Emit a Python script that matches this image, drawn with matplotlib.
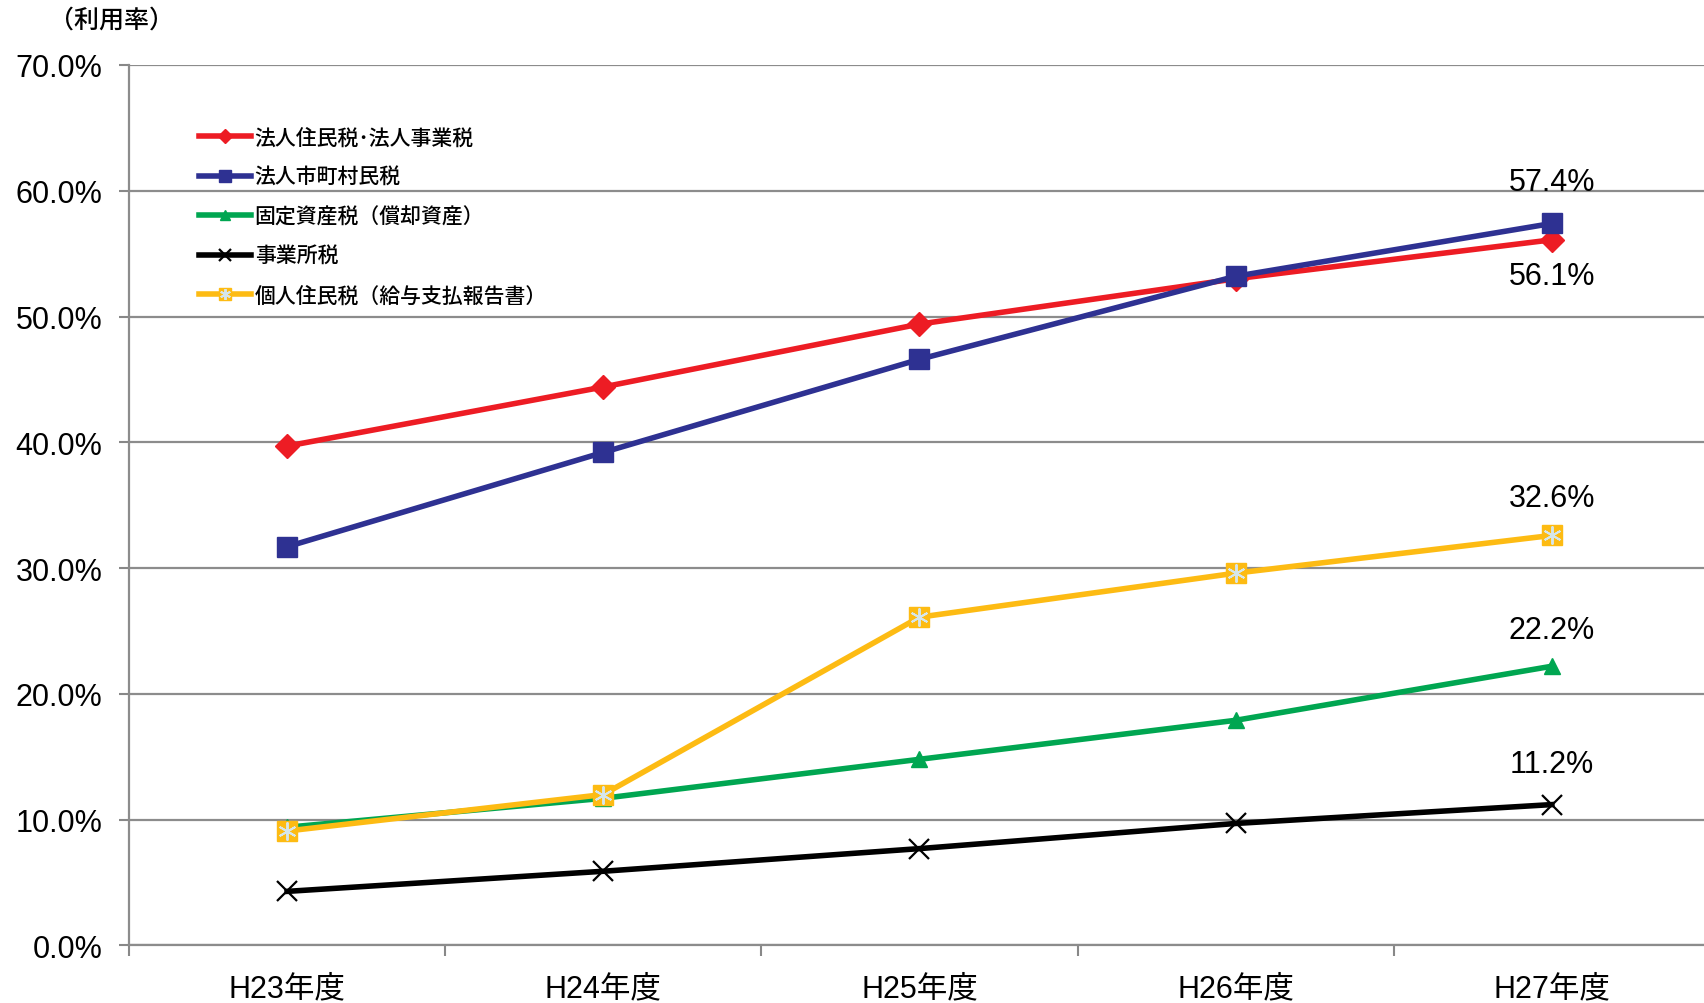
import numpy as np
import matplotlib
matplotlib.use("Agg")
import matplotlib.pyplot as plt
from matplotlib.ticker import FixedLocator, FuncFormatter

plt.rcParams['font.family'] = ['Liberation Sans', 'Noto Sans CJK JP']

# data (利用率, %)
years = ['H23年度', 'H24年度', 'H25年度', 'H26年度', 'H27年度']
hojin_jumin = [39.7, 44.4, 49.4, 53.0, 56.1]
hojin_shichoson = [31.7, 39.2, 46.6, 53.2, 57.4]
kotei_shisan = [9.4, 11.7, 14.8, 17.9, 22.2]
jigyosho = [4.3, 5.9, 7.7, 9.7, 11.2]
kojin_jumin = [9.1, 12.0, 26.1, 29.6, 32.6]

names = ['法人住民税･法人事業税', '法人市町村民税', '固定資産税（償却資産）',
         '事業所税', '個人住民税（給与支払報告書）']

fig = plt.figure(figsize=(17.04, 10.04), dpi=100)
ax = fig.add_axes([0.0757, 0.0573, 0.9278, 0.8770])

x = np.arange(len(years))
lw = 4

h_red, = ax.plot(x, hojin_jumin, color='#ed1c24', lw=lw, marker='D', ms=12,
                 zorder=3)
h_blue, = ax.plot(x, hojin_shichoson, color='#2e3192', lw=lw, marker='s',
                  ms=14, zorder=4)
h_green, = ax.plot(x, kotei_shisan, color='#00a651', lw=lw, marker='^', ms=12,
                   zorder=3)
h_black, = ax.plot(x, jigyosho, color='black', lw=lw, marker='x', ms=14,
                   mew=1.6, zorder=3)
h_yel, = ax.plot(x, kojin_jumin, color='#fdbb13', lw=lw, marker='s', ms=14,
                 zorder=5)
h_yel2, = ax.plot(x, kojin_jumin, ls='none', marker=(6, 2, 0), ms=13,
                  mec='#d6e6ea', mew=1.4, zorder=6)

# end labels
last = len(years) - 1
for vals, off in [(hojin_shichoson, 30), (hojin_jumin, -26),
                  (kojin_jumin, 27), (kotei_shisan, 26), (jigyosho, 29)]:
    ax.annotate('%.1f%%' % vals[last], (x[last], vals[last]),
                xytext=(0, off), textcoords='offset points',
                ha='center', va='center', fontsize=22)

ax.set_xlim(-0.5, 4.5)
ax.set_ylim(0, 70)
ax.set_yticks(np.arange(0, 71, 10))
ax.yaxis.set_major_formatter(FuncFormatter(lambda v, p: '%.1f%%' % v))
ax.set_xticks(x)
ax.set_xticklabels(years)
ax.xaxis.set_minor_locator(FixedLocator(np.arange(-0.5, 4.6, 1)))

ax.tick_params(axis='y', length=7, width=1.5, color='#888888', pad=12,
               labelsize=22)
ax.tick_params(axis='x', which='major', length=0, pad=20, labelsize=22)
ax.tick_params(axis='x', which='minor', length=8, width=1.5, color='#888888')

ax.grid(axis='y', color='#8c8c8c', lw=1.6)
ax.set_axisbelow(True)
for s in ['top', 'right']:
    ax.spines[s].set_visible(False)
for s in ['left', 'bottom']:
    ax.spines[s].set_color('#8c8c8c')
    ax.spines[s].set_linewidth(1.6)

fig.text(0.029, 0.980, '（利用率）', fontsize=18, ha='left', va='center',
         family=['Noto Sans CJK JP'], weight='medium')

leg = ax.legend([h_red, h_blue, h_green, h_black, (h_yel, h_yel2)], names,
                loc='upper left', bbox_to_anchor=(0.117, 0.873),
                bbox_transform=fig.transFigure, frameon=False,
                prop={'family': ['Noto Sans CJK JP'], 'size': 15,
                      'weight': 'medium'},
                handlelength=2.5, handletextpad=0.15, labelspacing=0.84,
                markerscale=0.6, borderpad=0, borderaxespad=0)

fig.savefig('out.png', dpi=100)
